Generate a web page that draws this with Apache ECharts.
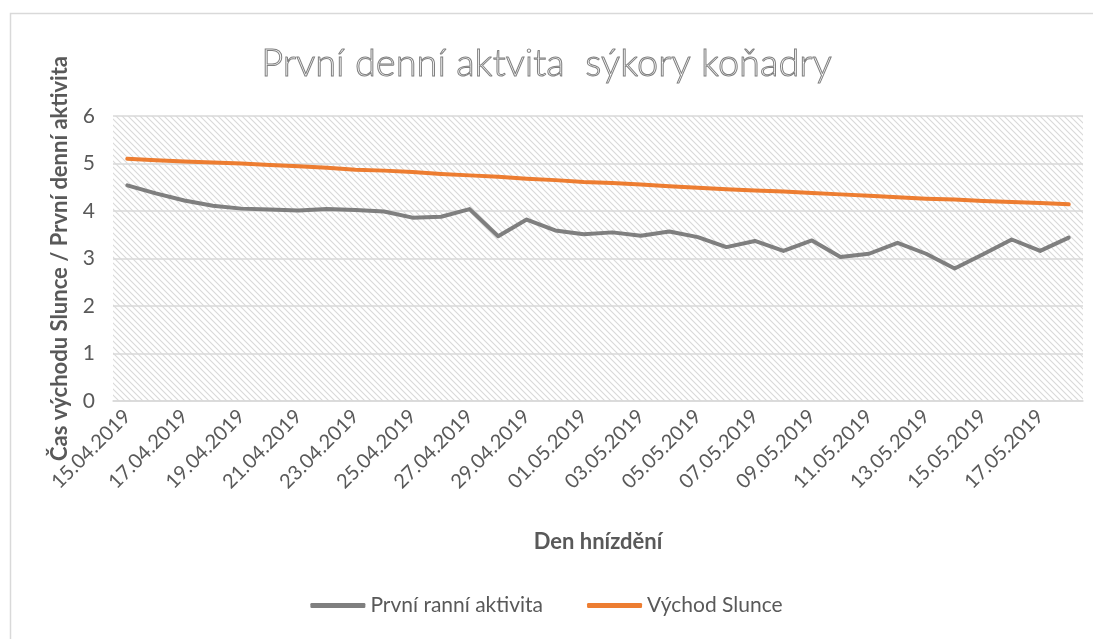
<!DOCTYPE html>
<html>
<head>
<meta charset="utf-8">
<script src="https://cdn.jsdelivr.net/npm/echarts@6/dist/echarts.min.js"></script>
<style>
  html, body { margin: 0; padding: 0; background: #fff; }
  #main { width: 1093px; height: 639px; }
</style>
</head>
<body>
<div id="main"></div>
<script>
// dny hnízdění
const days = [
  '15.04.2019','16.04.2019','17.04.2019','18.04.2019','19.04.2019','20.04.2019','21.04.2019',
  '22.04.2019','23.04.2019','24.04.2019','25.04.2019','26.04.2019','27.04.2019','28.04.2019',
  '29.04.2019','30.04.2019','01.05.2019','02.05.2019','03.05.2019','04.05.2019','05.05.2019',
  '06.05.2019','07.05.2019','08.05.2019','09.05.2019','10.05.2019','11.05.2019','12.05.2019',
  '13.05.2019','14.05.2019','15.05.2019','16.05.2019','17.05.2019','18.05.2019'
];
const firstActivity = [
  4.54, 4.37, 4.22, 4.11, 4.05, 4.03, 4.01, 4.04, 4.02, 3.99, 3.86, 3.88,
  4.04, 3.47, 3.82, 3.59, 3.51, 3.55, 3.48, 3.57, 3.45, 3.24, 3.37, 3.16,
  3.38, 3.03, 3.10, 3.33, 3.10, 2.79, 3.09, 3.40, 3.16, 3.44
];
const sunrise = [
  5.10, 5.07, 5.04, 5.02, 5.00, 4.97, 4.94, 4.91, 4.87, 4.85, 4.82, 4.78,
  4.75, 4.72, 4.68, 4.65, 4.61, 4.59, 4.56, 4.52, 4.49, 4.46, 4.43, 4.41,
  4.38, 4.35, 4.32, 4.29, 4.26, 4.24, 4.21, 4.19, 4.17, 4.14
];
const yTicks = [0, 6, 1];  // min, max, interval

// šrafování plochy grafu
function hatch() {
  const c = document.createElement('canvas');
  c.width = 6; c.height = 6;
  const g = c.getContext('2d');
  g.strokeStyle = '#d9d9d9';
  g.lineWidth = 1.1;
  g.beginPath();
  g.moveTo(-1, -1); g.lineTo(7, 7);
  g.moveTo(5, -1); g.lineTo(7, 1);
  g.moveTo(-1, 5); g.lineTo(1, 7);
  g.stroke();
  return c;
}

const font = 'Lato, "Open Sans", sans-serif';
const chart = echarts.init(document.getElementById('main'));

chart.setOption({
  animation: false,
  textStyle: { fontFamily: font },
  title: {
    text: 'První denní aktvita  sýkory koňadry',
    left: 'center',
    top: 40,
    textStyle: {
      fontFamily: font,
      fontSize: 38,
      fontWeight: 300,
      color: 'rgba(255,255,255,0)',
      textBorderColor: '#808080',
      textBorderWidth: 1
    }
  },
  graphic: [{
    type: 'rect',
    left: 8, top: 11,
    shape: { width: 1100, height: 700 },
    style: { fill: 'none', stroke: '#d9d9d9', lineWidth: 1.5 },
    silent: true
  }],
  legend: {
    bottom: 18,
    left: 'center',
    itemWidth: 55,
    itemHeight: 5,
    itemGap: 44,
    icon: 'roundRect',
    textStyle: { fontFamily: font, fontSize: 21, color: '#595959' },
    data: ['První ranní aktivita', 'Východ Slunce']
  },
  grid: {
    left: 113, right: 10, top: 116, bottom: 238,
    show: true,
    borderWidth: 0,
    backgroundColor: { image: hatch(), repeat: 'repeat' }
  },
  xAxis: {
    type: 'category',
    data: days,
    boundaryGap: true,
    name: 'Den hnízdění',
    nameLocation: 'middle',
    nameGap: 130,
    nameTextStyle: { fontFamily: font, fontSize: 22, fontWeight: 'bold', color: '#595959' },
    axisLine: { lineStyle: { color: '#d9d9d9', width: 1.5 } },
    axisTick: { show: false },
    axisLabel: {
      interval: 1,
      rotate: 45,
      fontSize: 20,
      color: '#595959',
      margin: 12
    }
  },
  yAxis: {
    type: 'value',
    min: yTicks[0], max: yTicks[1], interval: yTicks[2],
    name: 'Čas východu Slunce / První denní aktivita',
    nameLocation: 'middle',
    nameGap: 42,
    nameTextStyle: { fontFamily: font, fontSize: 22, fontWeight: 'bold', color: '#595959' },
    axisLine: { show: false },
    axisTick: { show: false },
    axisLabel: { fontSize: 21, color: '#595959', margin: 18 },
    splitLine: { lineStyle: { color: '#d9d9d9', width: 1.5 } }
  },
  series: [
    {
      name: 'První ranní aktivita',
      type: 'line',
      data: firstActivity,
      symbol: 'none',
      lineStyle: { color: '#7f7f7f', width: 4, cap: 'round', join: 'round' },
      itemStyle: { color: '#7f7f7f' }
    },
    {
      name: 'Východ Slunce',
      type: 'line',
      data: sunrise,
      symbol: 'none',
      lineStyle: { color: '#ed7d31', width: 4, cap: 'round', join: 'round' },
      itemStyle: { color: '#ed7d31' }
    }
  ]
});
</script>
</body>
</html>
